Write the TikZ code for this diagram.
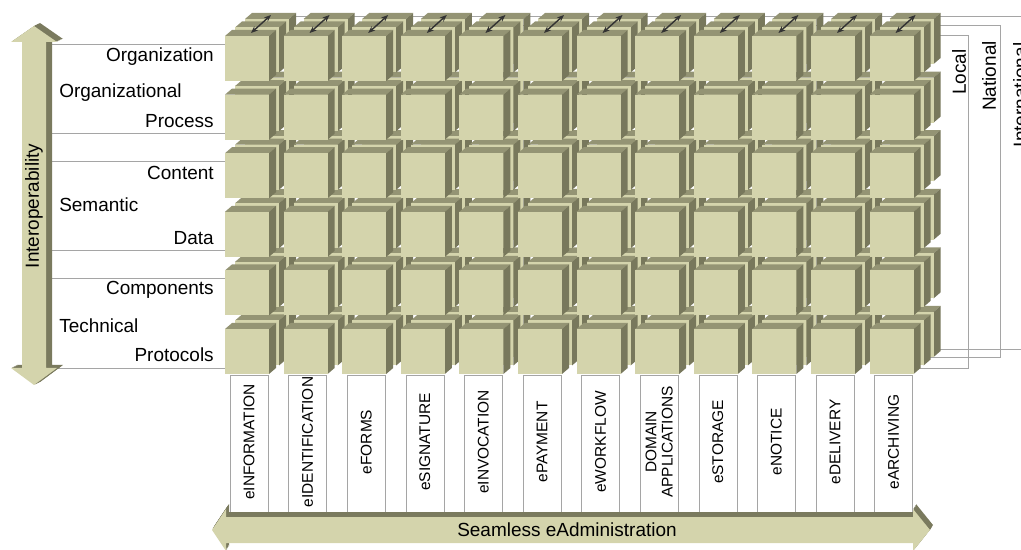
\documentclass[tikz,border=0pt]{standalone}
\usepackage{fontspec}
\setmainfont{Liberation Sans}
\usetikzlibrary{arrows.meta,positioning}
\usepackage{xcolor}
\definecolor{cubefront}{RGB}{212,212,172}
\definecolor{cubetop}{RGB}{148,148,116}
\definecolor{cubeside}{RGB}{120,120,92}
\definecolor{bandlight}{RGB}{212,212,172}
\definecolor{banddark}{RGB}{122,122,94}
\definecolor{guide}{RGB}{165,165,165}

% one cube, front face with its top-left corner at (#1,#2)
\newcommand{\drawcube}[2]{%
  \fill[cubetop] (#1,#2) -- ++(7,-6) -- ++(44,0) -- ++(-7,6) -- cycle;
  \fill[cubeside] (#1+44,#2) -- ++(7,-6) -- ++(0,45) -- ++(-7,6) -- cycle;
  \fill[cubefront] (#1,#2) rectangle ++(44,45);
}
% the two block arrows (outline only, style given as #1)
\newcommand{\vband}[1]{\fill[#1] (34,26) -- (57,42) -- (46,42) -- (46,368) -- (57,368) -- (34,385) -- (11,368) -- (22,368) -- (22,42) -- (11,42) -- cycle;}
\newcommand{\hband}[1]{\fill[#1] (212,530) -- (226,509) -- (226,517) -- (913,517) -- (913,509) -- (930,530) -- (913,551) -- (913,543) -- (226,543) -- (226,551) -- cycle;}

\begin{document}
\begin{tikzpicture}[x=0.025cm,y=-0.025cm,
  rowlabel/.style={font=\fontsize{13.5}{16}\selectfont,inner sep=0pt},
  svclabel/.style={font=\fontsize{11}{11.5}\selectfont,rotate=90,align=center,inner sep=0pt},
  level/.style={font=\fontsize{13.5}{16}\selectfont,rotate=90,inner sep=0pt}]
  \useasboundingbox (0,0) rectangle (1021,550);
  \def\P{58.6}
  % level brackets on the right (they run behind the cubes)
  \draw[guide] (240,35) -- (968,35) -- (968,368) -- (900,368);
  \draw[guide] (250,25) -- (1000,25) -- (1000,357) -- (910,357);
  \draw[guide] (260,16) -- (1040,16) -- (1040,349) -- (920,349);
  % row guides on the left
  \foreach \y in {44,133,161,250,278,368} { \draw[guide] (52,\y) -- (235,\y); }
  % cubes: back layer first, front layer last
  \foreach \d in {2,1,0} {
    \foreach \i in {0,...,11} {
      \foreach \j in {0,...,5} {
        \pgfmathsetmacro\cx{225+\P*\i+10*\d}
        \pgfmathsetmacro\cy{36+\P*\j-8.5*\d}
        \drawcube{\cx}{\cy}
      }
    }
  }
  % depth arrows on the top row
  \foreach \i in {0,...,11} {
    \coordinate (near\i) at (251+\P*\i,33);
    \coordinate (far\i) at (271+\P*\i,15);
    \draw[{Stealth[length=5pt,width=4pt]}-{Stealth[length=5pt,width=4pt]},line width=1pt,black!80] (near\i) -- (far\i);
  }
  % service columns
  \foreach \t [count=\i from 0] in {eINFORMATION,eIDENTIFICATION,eFORMS,eSIGNATURE,eINVOCATION,ePAYMENT,eWORKFLOW,{DOMAIN\\APPLICATIONS},eSTORAGE,eNOTICE,eDELIVERY,eARCHIVING} {
    \draw[guide,fill=white] (230+\P*\i,375) rectangle (268+\P*\i,516);
    \node[svclabel] (svc\i) at (249+\P*\i,442) {\t};
  }
  % block arrows
  \foreach \s in {6,...,1} { \vband{banddark,shift={(\s,-\s/2)}} }
  \vband{bandlight}
  \foreach \s in {5,...,1} { \hband{banddark,shift={(\s*0.6,-\s)}} }
  \hband{bandlight}
  \node[rowlabel,rotate=90] (iop) at (34,206) {Interoperability};
  \node[rowlabel] (sea) at (567,530) {Seamless eAdministration};
  % layer labels
  \node[rowlabel,anchor=base east] (org) at (214,62) {Organization};
  \node[rowlabel,anchor=base west] (orgl) at (59,98) {Organizational};
  \node[rowlabel,anchor=base east] (proc) at (214,128) {Process};
  \node[rowlabel,anchor=base east] (cont) at (214,180) {Content};
  \node[rowlabel,anchor=base west] (sem) at (59,212) {Semantic};
  \node[rowlabel,anchor=base east] (data) at (214,245) {Data};
  \node[rowlabel,anchor=base east] (comp) at (214,295) {Components};
  \node[rowlabel,anchor=base west] (tech) at (59,333) {Technical};
  \node[rowlabel,anchor=base east] (prot) at (214,362) {Protocols};
  % scope labels
  \node[level] (loc) at (959,72) {Local};
  \node[level] (nat) at (989,76) {National};
  \node[level] (intl) at (1020,95) {International};
\end{tikzpicture}
\end{document}
